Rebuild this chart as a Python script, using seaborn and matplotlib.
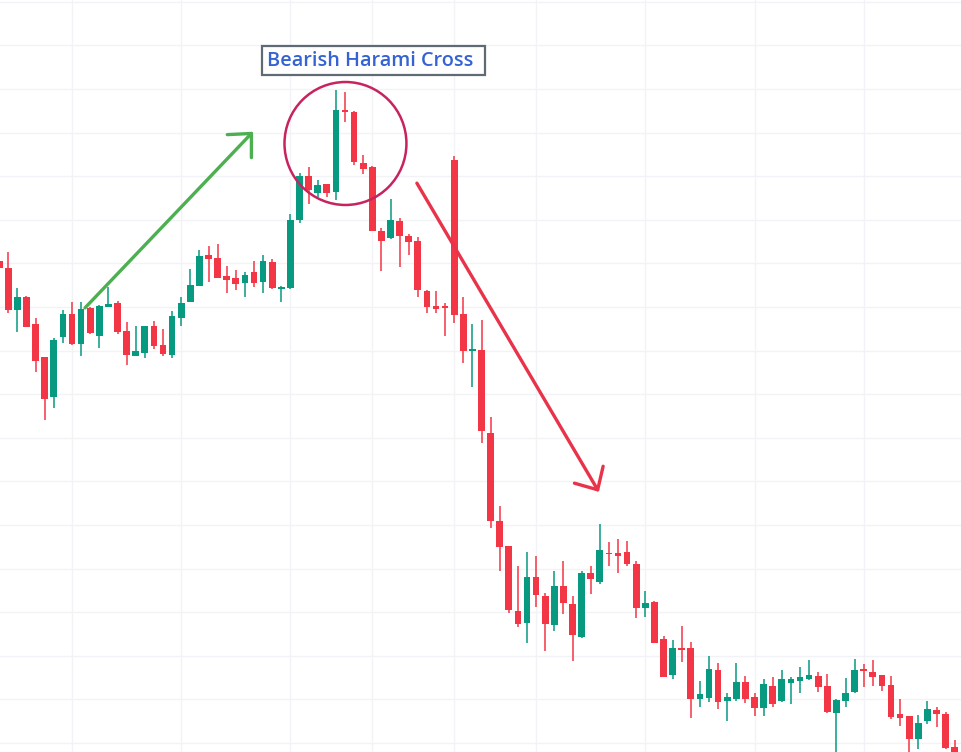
import numpy as np
import pandas as pd
import seaborn as sns
from matplotlib import pyplot as plt
from matplotlib.patches import Ellipse

# candle data (arbitrary price units, grid step = 10)
opens = [110.6, 109.0, 99.2, 102.4, 96.1, 88.5, 79.4, 93.2, 98.4, 91.5,
         99.8, 93.3, 100.1, 101.0, 94.6, 88.8, 89.5, 95.6, 91.3, 89.0,
         97.5, 101.2, 104.9, 111.9, 111.2, 107.1, 106.6, 105.4, 108.0, 105.7,
         110.3, 104.1, 104.3, 120.0, 130.1, 126.2, 128.2, 126.4, 145.2, 144.8,
         133.1, 132.2, 117.5, 115.8, 119.8, 116.3, 115.1, 103.7, 100.2, 100.1,
         133.7, 98.4, 89.9, 90.1, 71.0, 51.0, 45.2, 30.3, 27.6, 38.0,
         33.7, 27.0, 36.0, 31.9, 24.4, 39.0, 37.0, 43.6, 43.6, 43.9,
         41.0, 31.0, 32.4, 23.8, 15.6, 21.7, 21.7, 10.1, 10.4, 16.7,
         9.7, 10.1, 14.0, 10.5, 8.1, 13.1, 9.6, 13.8, 14.3, 14.7,
         15.4, 13.1, 6.8, 9.7, 11.6, 17.0, 16.3, 15.6, 13.3, 6.6,
         6.2, 0.9, 5.1, 7.6, 6.6, -0.9]
closes = [108.9, 99.3, 102.4, 95.5, 87.7, 79.0, 92.4, 98.4, 91.5, 99.5,
          94.0, 100.2, 100.8, 94.3, 89.0, 89.9, 95.6, 91.1, 89.2, 97.9,
          100.9, 105.0, 111.7, 111.1, 106.7, 106.2, 105.2, 107.3, 105.6, 110.6,
          104.4, 104.5, 120.0, 130.1, 126.8, 128.0, 126.2, 145.2, 144.7, 133.3,
          131.7, 117.5, 115.2, 120.0, 116.3, 115.0, 103.9, 100.1, 99.5, 99.8,
          98.2, 90.0, 90.4, 71.6, 51.0, 45.0, 30.5, 27.3, 38.0, 33.9,
          27.3, 36.0, 32.2, 24.8, 39.0, 37.7, 44.3, 43.3, 42.9, 41.0,
          31.0, 32.0, 23.0, 15.2, 21.7, 21.3, 10.1, 11.2, 17.0, 9.5,
          10.5, 14.0, 10.2, 8.1, 13.5, 8.9, 14.7, 14.7, 15.1, 15.6,
          12.9, 7.2, 9.8, 11.5, 16.7, 16.6, 15.2, 13.1, 5.9, 5.8,
          0.9, 4.5, 7.7, 6.6, -1.2, -2.8]
highs = [110.7, 112.5, 104.3, 102.5, 97.4, 88.6, 93.0, 99.3, 101.2, 101.2,
         100.1, 100.4, 104.7, 101.4, 96.5, 95.6, 95.7, 96.9, 95.0, 99.1,
         102.4, 108.7, 113.1, 114.1, 114.5, 109.4, 108.5, 108.0, 110.6, 111.9,
         110.9, 104.8, 121.3, 130.7, 132.0, 129.1, 128.3, 149.8, 149.3, 145.0,
         134.9, 132.3, 118.1, 124.8, 120.5, 116.7, 116.1, 103.8, 103.7, 101.0,
         134.6, 102.4, 96.1, 97.0, 74.8, 54.3, 45.3, 40.6, 43.9, 42.9,
         34.5, 39.5, 41.8, 33.7, 39.5, 40.6, 50.2, 46.1, 46.8, 46.4,
         41.8, 34.9, 32.6, 24.5, 23.6, 26.8, 23.1, 14.2, 19.9, 18.4,
         11.5, 18.4, 15.4, 11.4, 14.7, 15.1, 16.7, 15.2, 17.5, 19.0,
         16.2, 15.8, 10.2, 14.8, 19.3, 18.1, 19.0, 15.7, 15.4, 10.0,
         6.3, 6.4, 9.7, 8.2, 7.2, 0.7]
lows = [108.8, 98.7, 94.3, 95.3, 85.2, 74.1, 76.8, 91.8, 91.3, 88.8,
        93.9, 90.7, 100.0, 93.7, 86.7, 88.7, 88.4, 90.3, 88.8, 88.2,
        95.7, 101.1, 104.8, 105.8, 106.6, 103.1, 103.9, 102.4, 104.7, 103.3,
        104.1, 101.1, 104.2, 119.3, 123.6, 125.3, 125.3, 124.5, 142.5, 132.6,
        130.5, 117.4, 108.3, 115.5, 109.2, 111.9, 102.4, 98.6, 98.6, 93.3,
        96.3, 87.1, 81.6, 68.9, 49.2, 39.5, 29.9, 26.7, 23.0, 31.2,
        21.2, 25.7, 29.7, 18.9, 24.2, 34.2, 36.5, 40.6, 39.0, 40.6,
        28.6, 28.8, 22.9, 15.1, 14.7, 18.6, 5.8, 8.3, 9.5, 7.9,
        5.1, 9.7, 9.2, 6.2, 6.2, 8.2, 9.5, 8.9, 11.5, 14.4,
        11.7, 6.8, -3.0, 8.2, 11.4, 12.9, 13.1, 12.0, 5.6, 3.9,
        -2.5, -1.3, 4.3, 3.7, -1.3, -3.0]

time_grid = [8, 20, 32, 41, 50, 59, 71, 83, 95]
label = "Bearish Harami Cross"

UP = "#089981"
DOWN = "#f23645"

df = pd.DataFrame({"open": opens, "high": highs, "low": lows, "close": closes})
df["x"] = np.arange(len(df))
df["color"] = np.where(df["close"] >= df["open"], UP, DOWN)
df["bottom"] = df[["open", "close"]].min(axis=1)
df["body"] = (df["close"] - df["open"]).abs().clip(lower=0.35)

sns.set_theme(style="white")
plt.rcParams['font.family'] = ['Open Sans', 'DejaVu Sans']

fig = plt.figure(figsize=(9.62, 7.52), dpi=100)
ax = fig.add_axes([0, 0, 1, 1])

# grid
for g in range(0, 180, 10):
    ax.axhline(g, color="#f1f3f6", lw=1, zorder=0)
for g in time_grid:
    ax.axvline(g, color="#f1f3f6", lw=1, zorder=0)

# candles
ax.vlines(df["x"], df["low"], df["high"], colors=df["color"], lw=1.1, zorder=2)
ax.bar(df["x"], df["body"], bottom=df["bottom"], width=0.74,
       color=df["color"], linewidth=0, zorder=3)

ax.set_xlim(0.088, 105.8)
ax.set_ylim(-2.06, 170.41)
ax.set_xticks([])
ax.set_yticks([])
for s in ax.spines.values():
    s.set_visible(False)

# annotations
ax.add_patch(Ellipse((38.05, 137.5), 13.4, 28.2, fill=False,
                     edgecolor="#c8235f", lw=1.8, zorder=4))
head = "->,head_length=1.05,head_width=1.0"
ax.annotate("", xy=(27.9, 140.2), xytext=(9.43, 99.8),
            arrowprops=dict(arrowstyle=head, color="#4caf50", lw=2.4,
                            shrinkA=0, shrinkB=0),
            zorder=5)
ax.annotate("", xy=(65.9, 57.6), xytext=(45.9, 128.4),
            arrowprops=dict(arrowstyle=head, color="#e8334a", lw=2.4,
                            shrinkA=0, shrinkB=0),
            zorder=5)
ax.text(370 / 962, 1 - 61.5 / 752, label, transform=ax.transAxes, ha="center",
        va="center", fontsize=14.3, fontweight="semibold", color="#3563d4",
        zorder=7)
ax.add_patch(plt.Rectangle((262 / 962, 1 - 75 / 752), 223 / 962, 29 / 752,
                           transform=ax.transAxes, facecolor="white",
                           edgecolor="#5f6a74", lw=1.6, zorder=6))

fig.savefig("out.png", dpi=100)
